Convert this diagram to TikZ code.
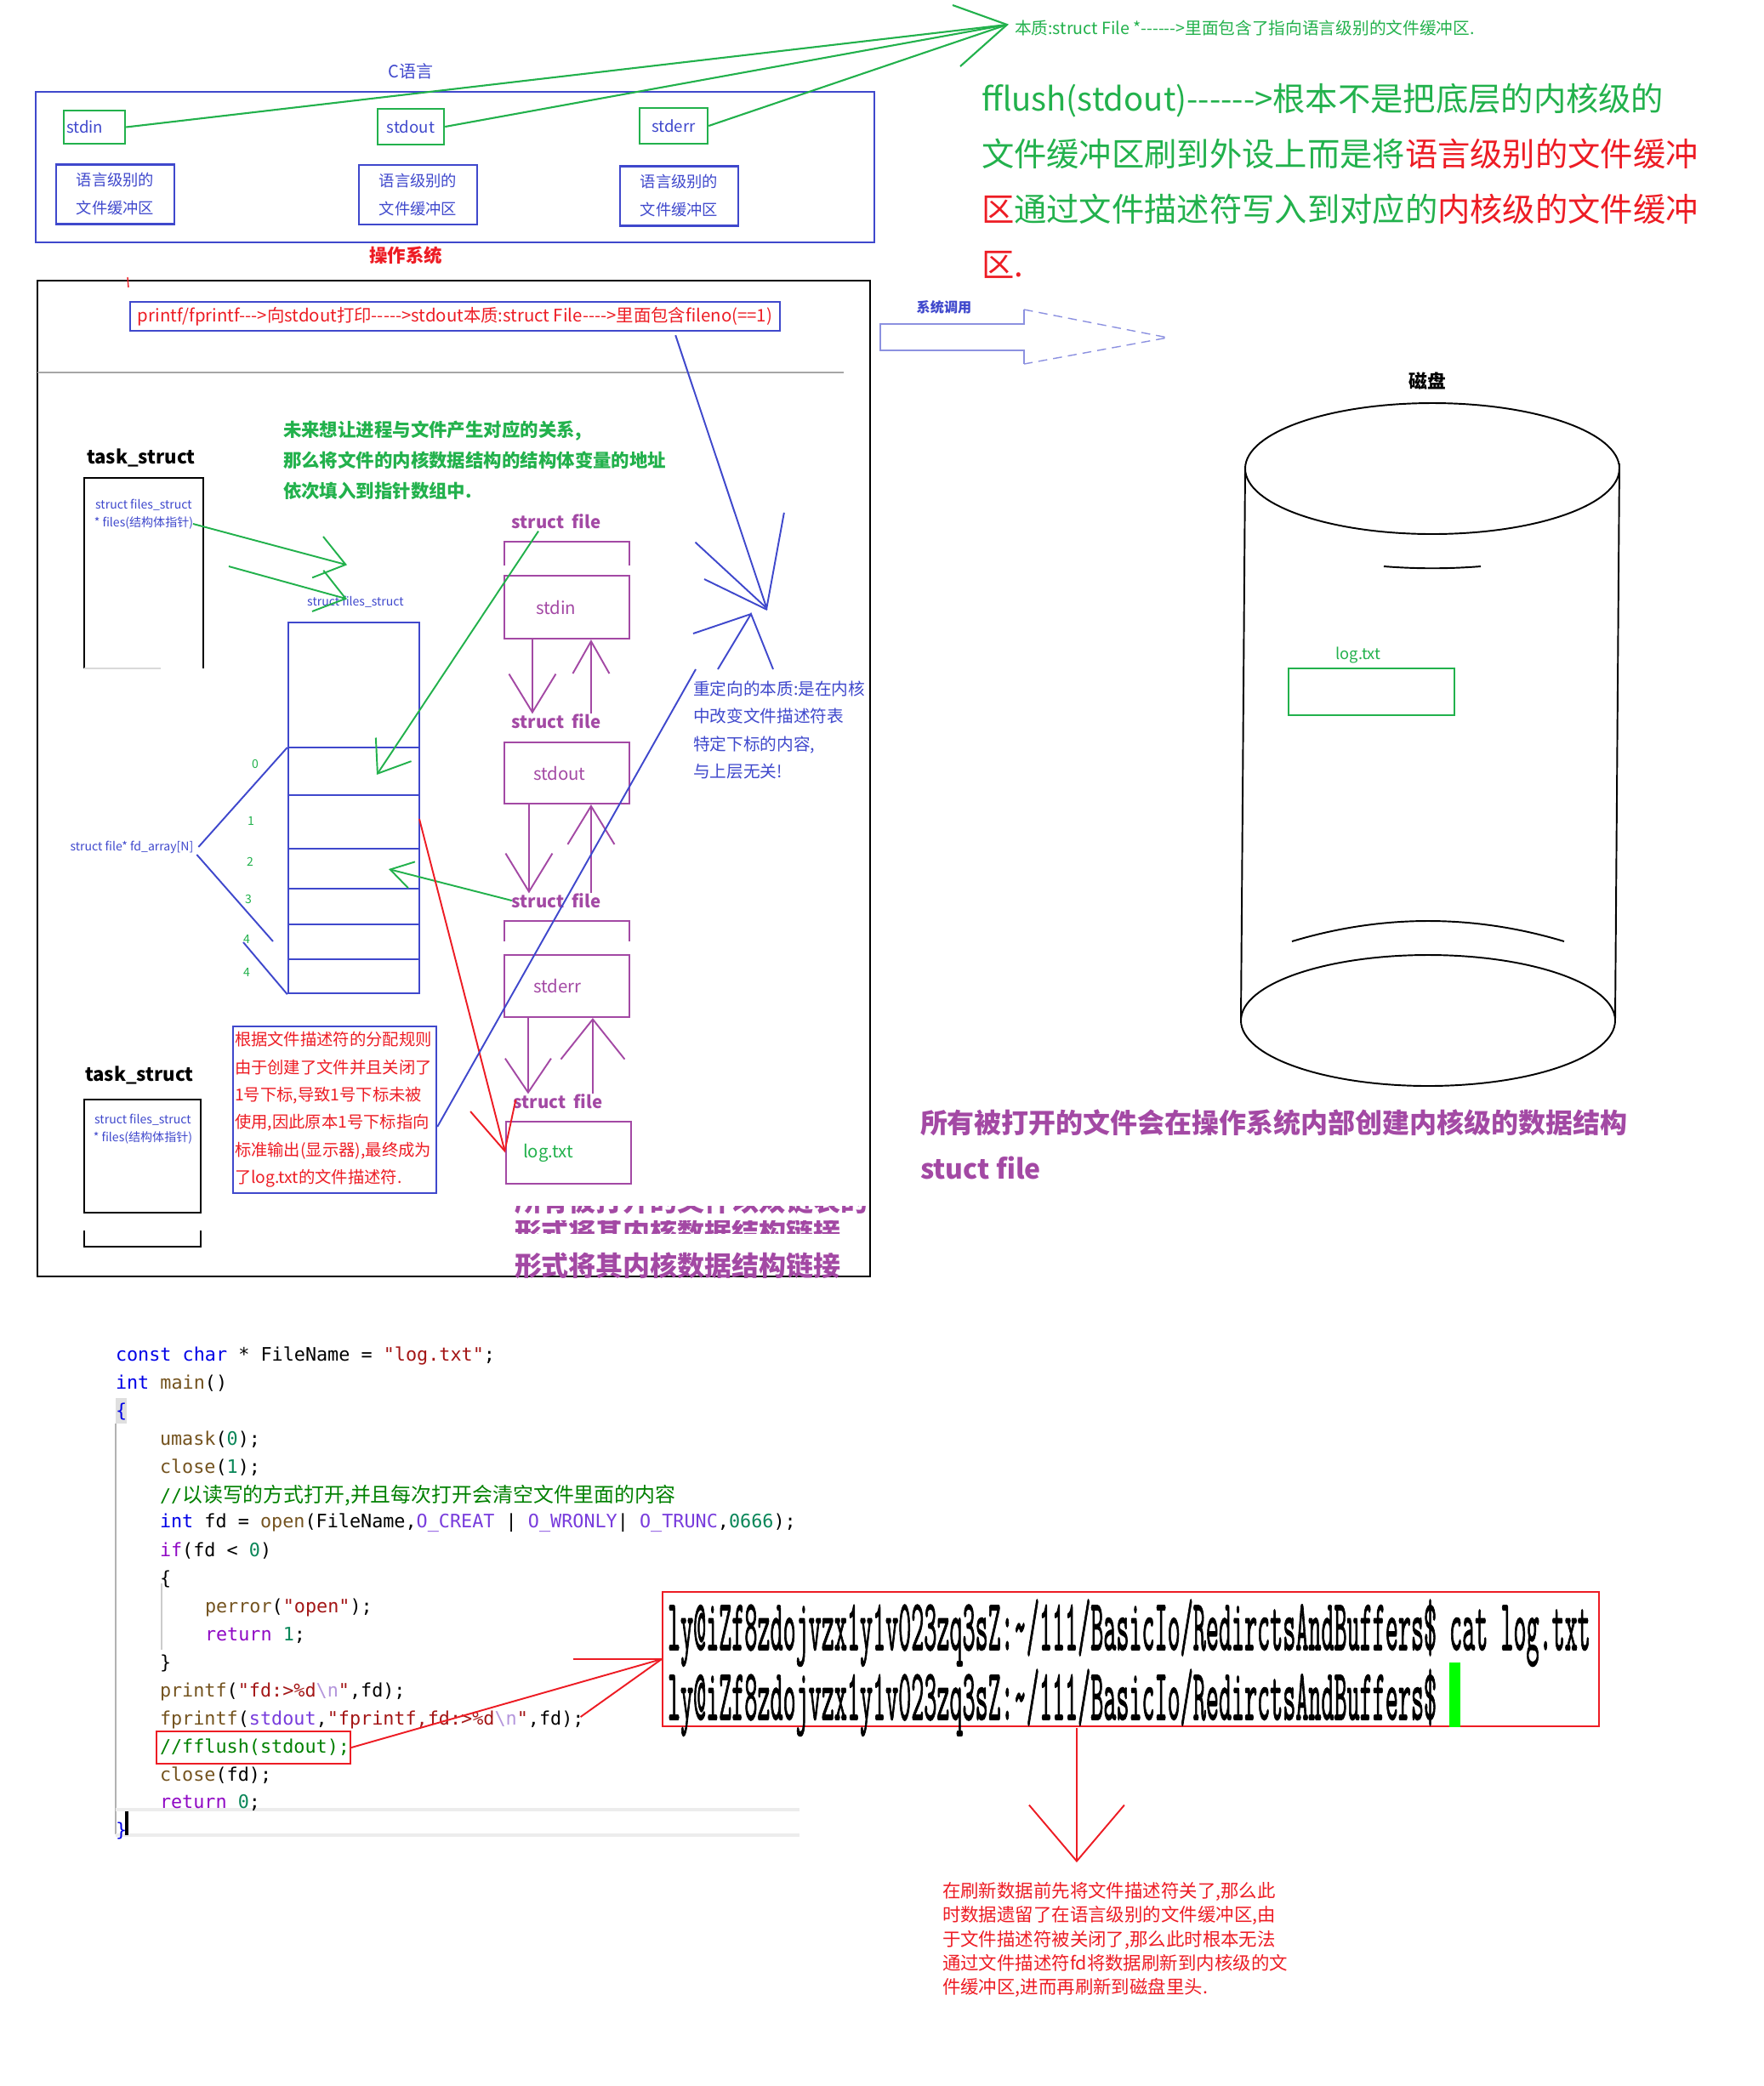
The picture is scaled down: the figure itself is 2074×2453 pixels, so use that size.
\documentclass[tikz,border=0pt]{standalone}
\usepackage{fontspec}
\setmainfont{Noto Sans CJK SC}[Ligatures=TeXOff]
\newfontfamily\cjkfont{Noto Sans CJK SC}[Ligatures=TeXOff]
\newfontfamily\codefont{DejaVu Sans Mono}[Ligatures=TeXOff]
\newfontfamily\termfont{Latin Modern Mono}[AutoFakeBold=2]
\usetikzlibrary{calc,arrows.meta}

\definecolor{pblue}{RGB}{63,72,204}
\definecolor{pgreen}{RGB}{34,177,76}
\definecolor{pred}{RGB}{237,28,36}
\definecolor{ppurple}{RGB}{163,73,164}
\definecolor{ckw}{RGB}{0,0,230}
\definecolor{cfn}{RGB}{116,83,31}
\definecolor{cstr}{RGB}{163,21,21}
\definecolor{cnum}{RGB}{9,134,88}
\definecolor{cctl}{RGB}{143,8,196}
\definecolor{cmac}{RGB}{120,60,220}
\definecolor{cesc}{RGB}{180,150,220}
\definecolor{ccmt}{RGB}{0,128,0}

\newcommand{\fsz}[2]{\fontsize{#1pt}{#2pt}\selectfont}

\tikzset{
  txt/.style={inner sep=0pt, outer sep=0pt},
  hand/.style={line width=0.55pt},
  gbox/.style={draw=pgreen, line width=0.7pt, inner sep=0pt, text=pblue, font=\fsz{5.3}{6}},
  bbox/.style={draw=pblue, line width=0.7pt, inner sep=0pt, minimum width=13.9mm, minimum height=7mm, align=center, text=pblue, font=\fsz{5.2}{9.4}},
  fbox/.style={draw=ppurple, line width=0.6pt, inner ysep=0pt, inner xsep=3.4mm, text width=7.9mm, align=left, text=ppurple, font=\fsz{5.8}{6}},
  flbl/.style={txt, text=ppurple, font=\bfseries\fsz{5.8}{6}},
  parrow/.style={ppurple, hand, -{Straight Barb[length=4.5mm,width=5.5mm]}},
  garrow/.style={pgreen, hand, -{Straight Barb[length=3.4mm,width=5mm]}},
  code/.style={txt, anchor=west, font=\codefont\fsz{6.2}{7}},
}

\begin{document}
\begin{tikzpicture}[x=0.1mm, y=-0.1mm]
\useasboundingbox (0,0) rectangle (2074,2453);

% C library level
\node[txt, text=pblue, font=\fsz{5.7}{6}] (clang) at (483,84) {C语言};
\node[draw=pblue, line width=0.7pt, minimum width=98.6mm, minimum height=17.7mm, inner sep=0] (cbox) at (535,196.5) {};
\node[gbox, minimum width=7.2mm, minimum height=3.9mm, text width=6.6mm, inner xsep=0.3mm, align=left] (cin) at (111,149.5) {stdin};
\node[gbox, minimum width=7.8mm, minimum height=4.2mm] (cout) at (483,149) {stdout};
\node[gbox, minimum width=8mm, minimum height=4.2mm] (cerr) at (792,148) {stderr};
\node[bbox] (buf1) at (135.5,228.5) {语言级别的\\文件缓冲区};
\node[bbox] (buf2) at (491.5,229) {语言级别的\\文件缓冲区};
\node[bbox] (buf3) at (798.5,230.5) {语言级别的\\文件缓冲区};
\node[txt, text=pred, font=\bfseries\fsz{6.1}{7}] (os) at (477,300) {操作系统};

\coordinate (fapex) at (1184,29);
\begin{scope}[pgreen, line width=0.6pt]
\draw (cin.east) -- (fapex);
\draw (cout.east) -- (fapex);
\draw (cerr.east) -- (fapex);
\draw ($(fapex)+(-64,-23)$) -- (fapex) -- ($(fapex)+(-55,49)$);
\end{scope}
\node[txt, anchor=west, text=pgreen, font=\fsz{5.6}{6}] (fnote) at (1193,33) {本质:struct File *------>里面包含了指向语言级别的文件缓冲区.};

\node[txt, anchor=west, align=left, text=pgreen, font=\fsz{10.9}{18.5}] (flush) at (1154,213)
  {fflush(stdout)------>根本不是把底层的内核级的\\
   文件缓冲区刷到外设上而是将\textcolor{pred}{语言级别的文件缓冲}\\
   \textcolor{pred}{区}通过文件描述符写入到对应的\textcolor{pred}{内核级的文件缓冲}\\
   \textcolor{pred}{区.}};

% kernel part
\draw[black, line width=0.7pt] (44,330) rectangle (1023,1501);
\draw[gray!70, line width=0.6pt] (44,438) -- (992,438);
\draw[pred, thin] (150,326) -- (151,338);
\node[draw=pblue, line width=0.7pt, minimum width=76.4mm, minimum height=3.4mm, inner sep=0, text=pred, font=\fsz{5.8}{6}] (pf) at (535,372)
  {printf/fprintf--->向stdout打印----->stdout本质:struct File---->里面包含fileno(==1)};

\node[txt, anchor=west, align=left, text=pgreen, font=\bfseries\fsz{6.1}{10.2}] (idea) at (333,541)
  {未来想让进程与文件产生对应的关系,\\那么将文件的内核数据结构的结构体变量的地址\\依次填入到指针数组中.};

% task_struct
\node[txt, font=\bfseries\fsz{6.3}{7}] (ts1) at (166,538) {task\_struct};
\node[minimum width=13.8mm, minimum height=22.2mm, inner sep=0] (tb1) at (169,674) {};
\draw[line width=0.6pt] (tb1.south west) -- (tb1.north west) -- (tb1.north east) -- (tb1.south east);
\draw[gray!30, line width=0.6pt] (tb1.south west) -- ++(90,0);
\node[txt, align=center, text=pblue, font=\fsz{4}{6}] (fs1) at (169,605) {struct files\_struct\\* files(结构体指针)};

\node[txt, text=pblue, font=\fsz{4}{5}] (fst) at (418,708) {struct files\_struct};
\coordinate (g1) at (227,616);
\coordinate (g2) at (269,666);
\draw[garrow] (g1) -- ($(fst.north)+(-10,-37)$);
\draw[garrow] (g2) -- ($(fst.north)+(-10,3)$);

% fd array
\node[draw=pblue, line width=0.7pt, minimum width=15.4mm, minimum height=43.6mm, inner sep=0] (fda) at (416,950) {};
\foreach \y in {879,935,998,1045,1087,1128}
  \draw[pblue, line width=0.7pt] (fda.west |- 0,\y) -- (fda.east |- 0,\y);
\foreach \i/\x/\y in {0/300/898,1/295/965,2/294/1013,3/292/1057,4/290/1104,4/290/1143}
  \node[txt, text=pgreen, font=\fsz{4}{5}] (ix\y) at (\x,\y) {\i};
\node[txt, text=pblue, font=\fsz{4}{5}] (fdl) at (155,996) {struct file* fd\_array[N]};
\begin{scope}[pblue, hand]
\draw ($(fdl.east)+(6,0)$) -- (fda.west |- 0,879);
\draw ($(fdl.east)+(4,9)$) -- (321,1107);
\draw (286,1108) -- (fda.south west);
\end{scope}

% struct file list
\node[flbl] (sf1) at (654,613) {struct\ \ file};
\node[flbl] (sf2) at (654,848) {struct\ \ file};
\node[flbl] (sf3) at (654,1059) {struct\ \ file};
\node[flbl] (sf4) at (656,1295) {struct\ \ file};
\draw[ppurple, line width=0.6pt] (593,665) -- (593,637) -- (740,637) -- (740,665);
\node[fbox, minimum height=7.4mm, inner xsep=3.7mm, text width=7.3mm] (fin) at (666.5,714) {stdin};
\node[fbox, minimum height=7.2mm] (fout) at (666.5,909) {stdout};
\draw[ppurple, line width=0.6pt] (593,1107) -- (593,1083) -- (740,1083) -- (740,1107);
\node[fbox, minimum height=7.3mm] (ferr) at (666.5,1159.5) {stderr};
\node[fbox, minimum height=7.3mm, inner xsep=2mm, text width=10.7mm, text=pgreen] (flog) at (668.5,1355.5) {log.txt};

\coordinate (dn1) at ($(fin.south west)+(34,0)$);
\coordinate (up1) at ($(fin.south west)+(103,0)$);
\coordinate (dn2) at ($(fout.south west)+(30,0)$);
\coordinate (up2) at ($(fout.south west)+(103,0)$);
\coordinate (dn3) at ($(ferr.south west)+(29,0)$);
\coordinate (up3) at ($(ferr.south west)+(105,0)$);
\draw[parrow] (dn1) -- (dn1 |- sf2.north);
\draw[parrow, -{Straight Barb[length=3.8mm,width=4.3mm]}] (up1 |- sf2.north) -- (up1);
\draw[parrow] (dn2) -- (dn2 |- sf3.north);
\draw[parrow] (up2 |- sf3.north) -- (up2);
\draw[parrow, -{Straight Barb[length=4mm,width=5.4mm]}] (dn3) -- (dn3 |- sf4.north);
\draw[parrow, -{Straight Barb[length=4.7mm,width=7.5mm]}] (up3 |- sf4.north) -- (up3);

% pointers into the array
\coordinate (s0) at (443,911);
\coordinate (s1) at (493,963);
\coordinate (s2) at (457,1022);
\draw[garrow] ($(sf1.south)+(-21,3)$) -- (s0);
\draw[garrow, -{Straight Barb[length=2.6mm,width=3.2mm]}] (sf3.west) -- (s2);
\draw[pred, hand, -{Straight Barb[length=5.5mm,width=5.5mm]}] (s1) -- (flog.west);

% explanation boxes
\node[draw=pblue, line width=0.7pt, minimum width=23.9mm, minimum height=19.6mm, text width=23.5mm, inner sep=0.2mm, align=left, text=pred, font=\fsz{5.5}{9.2}] (rbox) at (393.5,1305)
  {根据文件描述符的分配规则\\由于创建了文件并且关闭了\\1号下标,导致1号下标未被\\使用,因此原本1号下标指向\\标准输出(显示器),最终成为\\了log.txt的文件描述符.};
\node[txt, anchor=west, align=left, text=pblue, font=\fsz{5.6}{9.2}] (rdt) at (815,858.5)
  {重定向的本质:是在内核\\中改变文件描述符表\\特定下标的内容,\\与上层无关!};

% redirect marks
\coordinate (rd) at (902,717);
\coordinate (rv) at (883,722);
\coordinate (rl) at (818,787);
\begin{scope}[pblue, hand]
\draw[-{Straight Barb[length=10mm,width=11mm]}] ($(pf.south east)+(-124,4)$) -- (rd);
\draw ($(rd)+(-74,-36)$) -- (rd);
\draw ($(rv)+(-68,23)$) -- (rv);
\draw ($(rv)+(-39,65)$) -- (rv) -- ($(rv)+(26,65)$);
\draw (rl) -- ($(rbox.east)+(0,20)$);
\end{scope}

% second task_struct
\node[txt, font=\bfseries\fsz{6.3}{7}] (ts2) at (164,1264) {task\_struct};
\node[draw, line width=0.6pt, minimum width=13.7mm, minimum height=13.3mm, inner sep=0] (tb2) at (167.5,1359.5) {};
\node[txt, align=center, text=pblue, font=\fsz{4}{6}] (fs2) at (168,1328) {struct files\_struct\\* files(结构体指针)};
\draw[line width=0.6pt] (99,1447) -- (99,1466) -- (236,1466) -- (236,1447);

% purple note at the bottom of the box
\begin{scope}
\clip (600,1418) rectangle (1020,1429);
\node[txt, anchor=west, text=ppurple, font=\bfseries\fsz{9.1}{10}] (cut1) at (605,1412) {所有被打开的文件以双链表的};
\end{scope}
\begin{scope}
\clip (600,1435) rectangle (1020,1450);
\node[txt, anchor=west, text=ppurple, font=\bfseries\fsz{9.1}{10}] (cut2) at (605,1448) {形式将其内核数据结构链接...};
\end{scope}
\node[txt, anchor=west, text=ppurple, font=\bfseries\fsz{9.1}{10}] (lnk) at (605,1488) {形式将其内核数据结构链接};

% system call and disk
\node[txt, text=pblue, font=\bfseries\fsz{4.6}{5}] (sys) at (1110,361) {系统调用};
\draw[pblue!60, line width=0.4pt] (1204,364) -- (1204,381) -- (1035,381) -- (1035,412) -- (1204,412) -- (1204,428);
\draw[pblue!60, line width=0.4pt, densely dashed] (1204,364) -- (1373,397) -- (1204,428);

\node[txt, font=\bfseries\fsz{6.2}{7}] (disk) at (1678,448) {磁盘};
\begin{scope}[line width=0.55pt]
\draw (1684,551) ellipse [x radius=220, y radius=77];
\draw (1679,1200) ellipse [x radius=220, y radius=77];
\draw (1464,551) -- (1459,1200);
\draw (1904,545) -- (1899,1200);
\draw (1627,666) .. controls (1665,669) and (1703,669) .. (1741,666);
\draw (1519,1107) .. controls (1625,1075) and (1733,1075) .. (1839,1107);
\end{scope}
\node[txt, text=pgreen, font=\fsz{5.2}{6}] (dlog) at (1597,770) {log.txt};
\node[draw=pgreen, line width=0.6pt, minimum width=19.5mm, minimum height=5.5mm, inner sep=0] (dbox) at (1612.5,813.5) {};

\node[txt, anchor=west, align=left, text=ppurple, font=\bfseries\fsz{9.1}{15.4}] (allf) at (1082,1346)
  {所有被打开的文件会在操作系统内部创建内核级的数据结构\\stuct file};

% code
\fill[gray!25] (136,1644) rectangle (149,1674);
\draw[gray!60, line width=0.6pt] (136,1674) -- (136,2157);
\draw[gray!40, line width=0.5pt] (190,1862) -- (190,1940);
\draw[gray!15, line width=1.2pt] (136,2128) -- (940,2128);
\draw[gray!15, line width=1.2pt] (136,2158) -- (940,2158);
\node[code] (c1) at (136,1594) {\textcolor{ckw}{const} \textcolor{ckw}{char} * FileName = \textcolor{cstr}{"log.txt"};};
\node[code] (c2) at (136,1627) {\textcolor{ckw}{int} \textcolor{cfn}{main}()};
\node[code] (c3) at (136,1660) {\textcolor{ckw}{\{}};
\node[code] (c4) at (188,1693) {\textcolor{cfn}{umask}(\textcolor{cnum}{0});};
\node[code] (c5) at (188,1726) {\textcolor{cfn}{close}(\textcolor{cnum}{1});};
\node[code] (c6) at (188,1759) {\textcolor{ccmt}{//{\cjkfont\fsz{6.8}{7}以读写的方式打开,并且每次打开会清空文件里面的内容}}};
\node[code] (c7) at (188,1791) {\textcolor{ckw}{int} fd = \textcolor{cfn}{open}(FileName,\textcolor{cmac}{O\_CREAT} | \textcolor{cmac}{O\_WRONLY}| \textcolor{cmac}{O\_TRUNC},\textcolor{cnum}{0666});};
\node[code] (c8) at (188,1824) {\textcolor{cctl}{if}(fd < \textcolor{cnum}{0})};
\node[code] (c9) at (188,1857) {\{};
\node[code] (c10) at (241,1890) {\textcolor{cfn}{perror}(\textcolor{cstr}{"open"});};
\node[code] (c11) at (241,1923) {\textcolor{cctl}{return} \textcolor{cnum}{1};};
\node[code] (c12) at (188,1956) {\}};
\node[code] (c13) at (188,1989) {\textcolor{cfn}{printf}(\textcolor{cstr}{"fd:>\%d}\textcolor{cesc}{\textbackslash n}\textcolor{cstr}{"},fd);};
\node[code] (c14) at (188,2022) {\textcolor{cfn}{fprintf}(\textcolor{cmac}{stdout},\textcolor{cstr}{"fprintf,fd:>\%d}\textcolor{cesc}{\textbackslash n}\textcolor{cstr}{"},fd);};
\node[code] (c15) at (188,2055) {\textcolor{ccmt}{//fflush(stdout);}};
\node[code] (c16) at (188,2088) {\textcolor{cfn}{close}(fd);};
\node[code] (c17) at (188,2120) {\textcolor{cctl}{return} \textcolor{cnum}{0};};
\node[code] (c18) at (136,2153) {\textcolor{ckw}{\}}};
\draw[black, line width=1.2pt] (149,2130) -- (149,2158);
\node[draw=pred, line width=0.6pt, minimum width=22.8mm, minimum height=3.8mm, inner sep=0] (flbox) at (298,2055) {};

% terminal output
\node[draw=pred, line width=0.6pt, minimum width=110.1mm, minimum height=15.8mm, inner sep=0] (term) at (1329.5,1951) {};
\node[txt, anchor=base west] (t1) at (785,1940) {\scalebox{0.344}[1]{\termfont\bfseries\fsz{24.2}{25}ly@iZf8zdojvzx1y1v023zq3sZ:\textasciitilde/111/BasicIo/RedirctsAndBuffers\$ cat log.txt}};
\node[txt, anchor=base west] (t2) at (785,2022) {\scalebox{0.344}[1]{\termfont\bfseries\fsz{24.2}{25}ly@iZf8zdojvzx1y1v023zq3sZ:\textasciitilde/111/BasicIo/RedirctsAndBuffers\$}};
\fill[green] (1704,1955) rectangle (1717,2031);

\begin{scope}[pred, hand]
\draw (flbox.east) -- (term.west);
\draw ($(c14.east)+(-4,-3)$) -- (term.west);
\draw ($(term.west)+(-104,0)$) -- (term.west);
\draw[-{Straight Barb[length=6.6mm,width=11.2mm]}] ($(term.south west)+(488,1)$) -- ++(0,158) coordinate (dtip);
\end{scope}

\node[txt, anchor=west, align=left, text=pred, font=\fsz{6.1}{8}] (why) at (1108,2281)
  {在刷新数据前先将文件描述符关了,那么此\\时数据遗留了在语言级别的文件缓冲区,由\\于文件描述符被关闭了,那么此时根本无法\\通过文件描述符fd将数据刷新到内核级的文\\件缓冲区,进而再刷新到磁盘里头.};

\end{tikzpicture}
\end{document}
